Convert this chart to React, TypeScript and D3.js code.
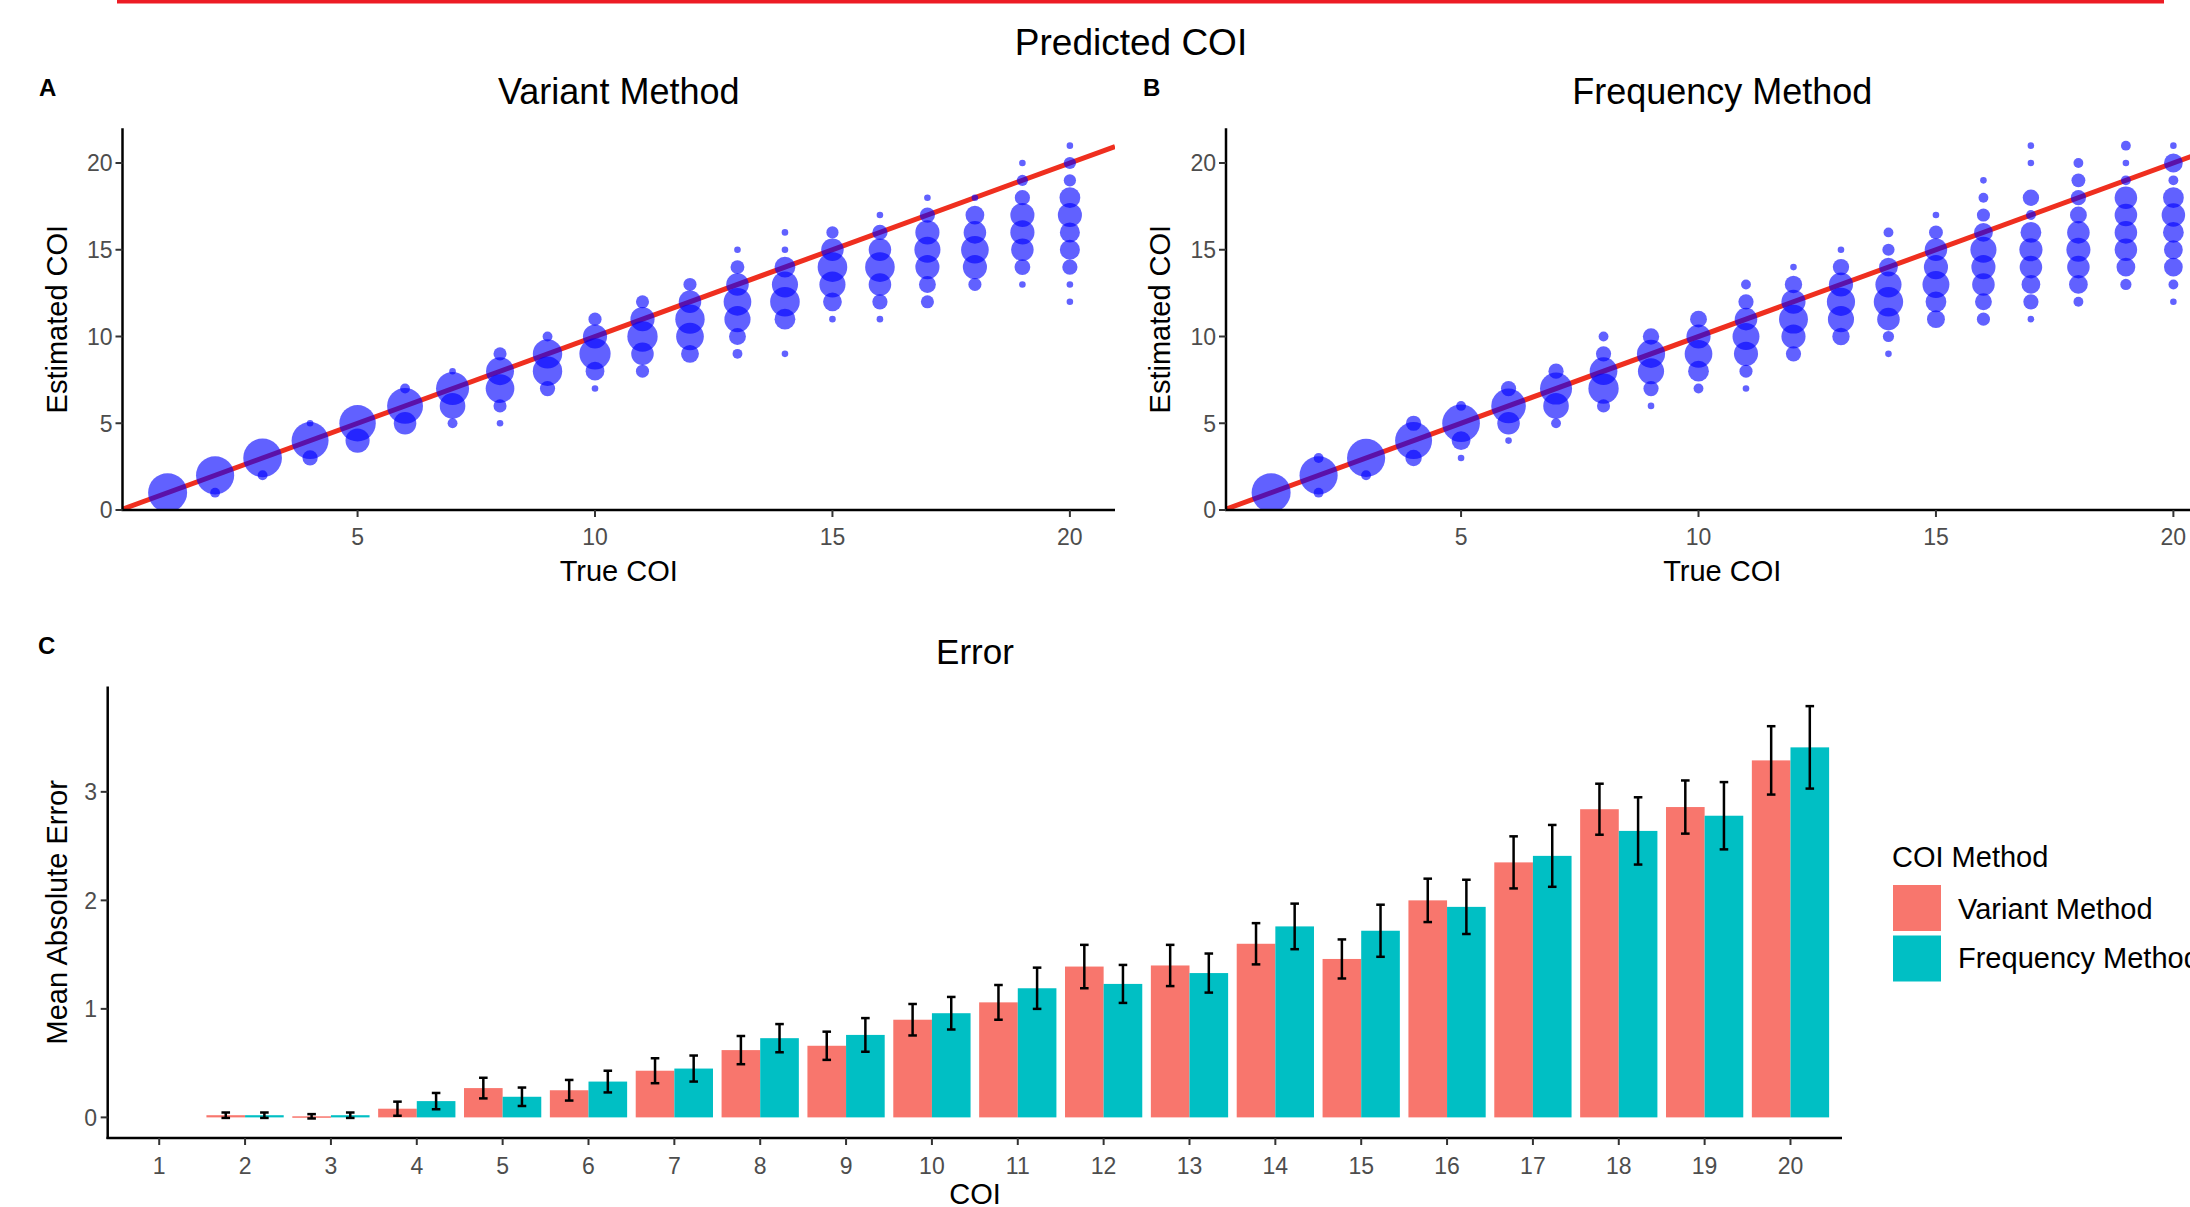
import * as d3 from "d3";

const W = 2190;
const H = 1207;
const FONT = "'Liberation Sans', Arial, Helvetica, sans-serif";

// ---- panel A / B : counts of estimated COI for every true COI (index 0 -> true COI 1)
// each entry: [estimated COI, number of runs]
const variantEstimates: [number, number][][] = [
  [[1, 100]],
  [[2, 95], [1, 2]],
  [[3, 98], [2, 2]],
  [[5, 1], [4, 88], [3, 8]],
  [[5, 85], [4, 30]],
  [[7, 2], [6, 82], [5, 25]],
  [[8, 1], [7, 67], [6, 35], [5, 2]],
  [[9, 5], [8, 44], [7, 47], [6, 5], [5, 1]],
  [[10, 2], [9, 50], [8, 50], [7, 8]],
  [[11, 5], [10, 30], [9, 58], [8, 15], [7, 1]],
  [[12, 5], [11, 30], [10, 54], [9, 25], [8, 5]],
  [[13, 5], [12, 25], [11, 50], [10, 43], [9, 13]],
  [[15, 1], [14, 6], [13, 25], [12, 43], [11, 37], [10, 11], [9, 2]],
  [[16, 1], [15, 1], [14, 20], [13, 37], [12, 51], [11, 20], [9, 1]],
  [[16, 4], [15, 25], [14, 51], [13, 37], [12, 15], [11, 1]],
  [[17, 1], [16, 8], [15, 25], [14, 51], [13, 25], [12, 8], [11, 1]],
  [[18, 1], [17, 8], [16, 30], [15, 37], [14, 30], [13, 11], [12, 5]],
  [[18, 1], [17, 15], [16, 25], [15, 43], [14, 30], [13, 5]],
  [[20, 1], [19, 3], [18, 8], [17, 30], [16, 30], [15, 25], [14, 9], [13, 1]],
  [[21, 1], [20, 4], [19, 4], [18, 20], [17, 30], [16, 18], [15, 18], [14, 8], [13, 1], [12, 1]],
];

const frequencyEstimates: [number, number][][] = [
  [[1, 100]],
  [[3, 2], [2, 95], [1, 2]],
  [[3, 95], [2, 2]],
  [[5, 8], [4, 88], [3, 10]],
  [[6, 2], [5, 92], [4, 15], [3, 1]],
  [[7, 8], [6, 75], [5, 25], [4, 1]],
  [[8, 8], [7, 62], [6, 35], [5, 2]],
  [[10, 2], [9, 8], [8, 43], [7, 54], [6, 5]],
  [[10, 10], [9, 45], [8, 37], [7, 8], [6, 1]],
  [[11, 11], [10, 30], [9, 43], [8, 20], [7, 2]],
  [[13, 2], [12, 8], [11, 25], [10, 40], [9, 30], [8, 5], [7, 1]],
  [[14, 1], [13, 12], [12, 30], [11, 48], [10, 30], [9, 8]],
  [[15, 1], [14, 10], [13, 30], [12, 45], [11, 37], [10, 12]],
  [[16, 2], [15, 4], [14, 15], [13, 37], [12, 50], [11, 25], [10, 3], [9, 1]],
  [[17, 1], [16, 6], [15, 25], [14, 30], [13, 40], [12, 20], [11, 13]],
  [[19, 1], [18, 2], [17, 5], [16, 15], [15, 37], [14, 30], [13, 25], [12, 11], [11, 5]],
  [[21, 1], [20, 1], [18, 10], [17, 2], [16, 20], [15, 27], [14, 25], [13, 15], [12, 8], [11, 1]],
  [[20, 2], [19, 6], [18, 8], [17, 11], [16, 25], [15, 30], [14, 25], [13, 15], [12, 2]],
  [[21, 2], [20, 1], [19, 2], [18, 25], [17, 25], [16, 25], [15, 25], [14, 15], [13, 3]],
  [[21, 1], [20, 15], [19, 2], [18, 20], [17, 28], [16, 20], [15, 15], [14, 15], [13, 2], [12, 1]],
];

const scatterXTicks = [5, 10, 15, 20];
const scatterYTicks = [0, 5, 10, 15, 20];

// ---- panel C : mean absolute error (+/- error bar half width)
const coiLevels = d3.range(1, 21).map(String);
const methods = ["Variant Method", "Frequency Method"];
const variantMae = [null, 0.02, 0.01, 0.08, 0.27, 0.25, 0.43, 0.62, 0.66, 0.9, 1.06, 1.39, 1.4, 1.6, 1.46, 2.0, 2.35, 2.84, 2.86, 3.29];
const variantErr = [null, 0.025, 0.02, 0.065, 0.095, 0.095, 0.115, 0.13, 0.13, 0.145, 0.16, 0.2, 0.19, 0.19, 0.18, 0.2, 0.24, 0.235, 0.245, 0.315];
const frequencyMae = [null, 0.02, 0.02, 0.15, 0.19, 0.33, 0.45, 0.73, 0.76, 0.96, 1.19, 1.23, 1.33, 1.76, 1.72, 1.94, 2.41, 2.64, 2.78, 3.41];
const frequencyErr = [null, 0.025, 0.025, 0.075, 0.085, 0.1, 0.12, 0.13, 0.155, 0.15, 0.19, 0.175, 0.18, 0.21, 0.24, 0.25, 0.285, 0.31, 0.31, 0.38];
const errorYTicks = [0, 1, 2, 3];
const methodColors = ["#F8766D", "#00BFC4"];

// ggplot-like area palette: radius grows with sqrt of rescaled count
const sizeScale = d3.scaleSqrt().domain([0, 99]).range([3.3, 19.5]);
const radius = (n: number) => sizeScale(n - 1);

const ScatterPanel = ({ left, right, data, title, tag, tagX, clipId }) => {
  const x = d3.scaleLinear().domain([0.05, 20.95]).range([left, right]);
  const y = d3.scaleLinear().domain([0, 22]).range([510, 128.3]);
  const line = d3
    .line<number>()
    .x((d) => x(d))
    .y((d) => y(d));
  const points = data.flatMap((col, i) =>
    col.map(([est, n]) => ({ t: i + 1, est, n }))
  );
  const mid = (left + right) / 2;
  return (
    <g>
      <clipPath id={clipId}>
        <rect x={left} y={y(22)} width={right - left} height={y(0) - y(22)} />
      </clipPath>
      <text x={tagX} y={96} fontSize={24} fontWeight="bold" fill="#000">
        {tag}
      </text>
      <text x={mid} y={104} fontSize={36} textAnchor="middle" fill="#000">
        {title}
      </text>
      <g clipPath={`url(#${clipId})`}>
        <path d={line([0.05, 20.95])} stroke="#ef2f1f" strokeWidth={5} fill="none" />
        {points.map((p, i) => (
          <circle
            key={i}
            cx={x(p.t)}
            cy={y(p.est)}
            r={radius(p.n)}
            fill="#0000ff"
            fillOpacity={0.62}
          />
        ))}
      </g>
      <line x1={left} x2={left} y1={y(22)} y2={y(0) + 1} stroke="#000" strokeWidth={2.5} />
      <line x1={left - 1} x2={right} y1={y(0)} y2={y(0)} stroke="#000" strokeWidth={2.5} />
      {scatterYTicks.map((t) => (
        <g key={t}>
          <line x1={left - 7} x2={left} y1={y(t)} y2={y(t)} stroke="#333" strokeWidth={2} />
          <text x={left - 10} y={y(t)} dy="0.36em" fontSize={23} textAnchor="end" fill="#4D4D4D">
            {t}
          </text>
        </g>
      ))}
      {scatterXTicks.map((t) => (
        <g key={t}>
          <line x1={x(t)} x2={x(t)} y1={y(0)} y2={y(0) + 7} stroke="#333" strokeWidth={2} />
          <text x={x(t)} y={545} fontSize={23} textAnchor="middle" fill="#4D4D4D">
            {t}
          </text>
        </g>
      ))}
      <text x={mid} y={581} fontSize={29} textAnchor="middle" fill="#000">
        True COI
      </text>
      <text
        transform={`translate(${left - 56},${(y(0) + y(22)) / 2}) rotate(-90)`}
        fontSize={29}
        textAnchor="middle"
        fill="#000"
      >
        Estimated COI
      </text>
    </g>
  );
};

const ErrorPanel = () => {
  const x = d3.scalePoint().domain(coiLevels).range([107.7, 1842]).padding(0.6);
  const step = x.step();
  const dodge = d3.scaleBand().domain(methods).range([-0.45 * step, 0.45 * step]);
  const y = d3.scaleLinear().domain([-0.19, 3.97]).range([1138, 686.6]);
  const series = [
    { name: methods[0], mae: variantMae, err: variantErr, color: methodColors[0] },
    { name: methods[1], mae: frequencyMae, err: frequencyErr, color: methodColors[1] },
  ];
  const capHalf = 0.05 * step;
  return (
    <g>
      <text x={38} y={654} fontSize={24} fontWeight="bold" fill="#000">
        C
      </text>
      <text x={975} y={664} fontSize={35} textAnchor="middle" fill="#000">
        Error
      </text>
      {series.map((s) =>
        coiLevels.map((c, i) => {
          const v = s.mae[i];
          if (v == null) return null;
          const bx = x(c) + dodge(s.name);
          return (
            <rect
              key={s.name + c}
              x={bx}
              y={y(v)}
              width={dodge.bandwidth()}
              height={Math.max(1.5, y(0) - y(v))}
              fill={s.color}
            />
          );
        })
      )}
      {series.map((s) =>
        coiLevels.map((c, i) => {
          const v = s.mae[i];
          const e = s.err[i];
          if (v == null || e == null) return null;
          const cx = x(c) + dodge(s.name) + dodge.bandwidth() / 2;
          return (
            <g key={"e" + s.name + c} stroke="#000" strokeWidth={2.5}>
              <line x1={cx} x2={cx} y1={y(v + e)} y2={y(v - e)} />
              <line x1={cx - capHalf} x2={cx + capHalf} y1={y(v + e)} y2={y(v + e)} />
              <line x1={cx - capHalf} x2={cx + capHalf} y1={y(v - e)} y2={y(v - e)} />
            </g>
          );
        })
      )}
      <line x1={107.7} x2={107.7} y1={686.6} y2={1139} stroke="#000" strokeWidth={2.5} />
      <line x1={106.5} x2={1842} y1={1138} y2={1138} stroke="#000" strokeWidth={2.5} />
      {errorYTicks.map((t) => (
        <g key={t}>
          <line x1={100.7} x2={107.7} y1={y(t)} y2={y(t)} stroke="#333" strokeWidth={2} />
          <text x={97} y={y(t)} dy="0.36em" fontSize={23} textAnchor="end" fill="#4D4D4D">
            {t}
          </text>
        </g>
      ))}
      {coiLevels.map((c) => (
        <g key={c}>
          <line x1={x(c)} x2={x(c)} y1={1138} y2={1145} stroke="#333" strokeWidth={2} />
          <text x={x(c)} y={1174} fontSize={23} textAnchor="middle" fill="#4D4D4D">
            {c}
          </text>
        </g>
      ))}
      <text x={975} y={1204} fontSize={29} textAnchor="middle" fill="#000">
        COI
      </text>
      <text
        transform={`translate(66.6,${(1138 + 686.6) / 2}) rotate(-90)`}
        fontSize={29}
        textAnchor="middle"
        fill="#000"
      >
        Mean Absolute Error
      </text>
      {/* legend */}
      <text x={1892} y={867} fontSize={29} fill="#000">
        COI Method
      </text>
      {methods.map((m, i) => (
        <g key={m}>
          <rect x={1893} y={885 + i * 50.5} width={48} height={46} fill={methodColors[i]} />
          <text x={1958} y={919 + i * 49} fontSize={29} fill="#000">
            {m}
          </text>
        </g>
      ))}
    </g>
  );
};

export default function App() {
  return (
    <svg
      width={W}
      height={H}
      style={{ position: "absolute", left: 0, top: 0, background: "#fff" }}
      fontFamily={FONT}
    >
      <rect x={0} y={0} width={W} height={H} fill="#fff" />
      <rect x={117} y={0} width={2047} height={3.5} fill="#ed1c24" />
      <text x={1131} y={55} fontSize={37} textAnchor="middle" fill="#000">
        Predicted COI
      </text>
      <ScatterPanel
        left={122.5}
        right={1115}
        data={variantEstimates}
        title="Variant Method"
        tag="A"
        tagX={39}
        clipId="clipA"
      />
      <ScatterPanel
        left={1226}
        right={2218.5}
        data={frequencyEstimates}
        title="Frequency Method"
        tag="B"
        tagX={1143}
        clipId="clipB"
      />
      <ErrorPanel />
    </svg>
  );
}
